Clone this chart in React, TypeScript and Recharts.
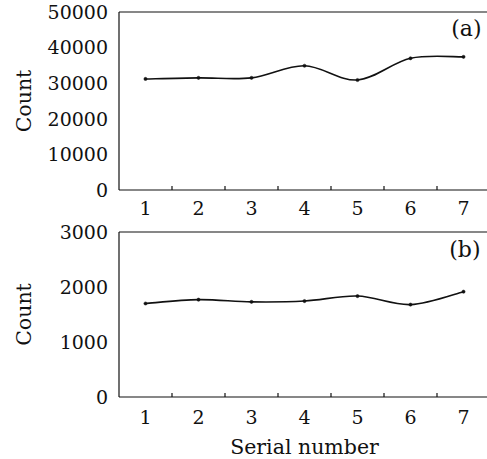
import React from 'react';
import { LineChart, Line, XAxis, YAxis, ReferenceLine } from 'recharts';

const serial = [1, 2, 3, 4, 5, 6, 7];
const xTicks = [1, 1.5, 2, 2.5, 3, 3.5, 4, 4.5, 5, 5.5, 6, 6.5, 7];
const countA = [31200, 31500, 31500, 34900, 30900, 37000, 37400];
const countB = [1700, 1770, 1730, 1745, 1835, 1680, 1915];
const yTicksA = [0, 10000, 20000, 30000, 40000, 50000];
const yTicksB = [0, 1000, 2000, 3000];

const dataA = serial.map((s, i) => ({ x: s, y: countA[i] }));
const dataB = serial.map((s, i) => ({ x: s, y: countB[i] }));

const FONT = 'DejaVu Serif';
const INK = '#111';

// Catmull-Rom style smoothing (like spreadsheet "smoothed line")
function smoothCurve(context: any) {
  let pts: [number, number][] = [];
  return {
    areaStart() {},
    areaEnd() {},
    lineStart() {
      pts = [];
    },
    point(x: number, y: number) {
      pts.push([+x, +y]);
    },
    lineEnd() {
      const n = pts.length;
      if (!n) return;
      context.moveTo(pts[0][0], pts[0][1]);
      for (let i = 0; i < n - 1; i++) {
        const p0 = pts[Math.max(0, i - 1)];
        const p1 = pts[i];
        const p2 = pts[i + 1];
        const p3 = pts[Math.min(n - 1, i + 2)];
        const c1x = p1[0] + (p2[0] - p0[0]) / 6;
        const c1y = p1[1] + (p2[1] - p0[1]) / 6;
        const c2x = p2[0] - (p3[0] - p1[0]) / 6;
        const c2y = p2[1] - (p3[1] - p1[1]) / 6;
        context.bezierCurveTo(c1x, c1y, c2x, c2y, p2[0], p2[1]);
      }
    },
  };
}

const makeTick = (margin: number) => (props: any) => {
  const { x, y, payload } = props;
  const v = payload.value;
  if (Math.round(v) !== v) {
    const ay = y - margin;
    return <line x1={x} x2={x} y1={ay} y2={ay - 4} stroke={INK} strokeWidth={1.2} />;
  }
  return (
    <text x={x} y={y} dy="0.71em" textAnchor="middle" fill={INK} style={{ fontFamily: FONT, fontSize: 19 }}>
      {v}
    </text>
  );
};

const yTickStyle = { fill: INK, style: { fontFamily: FONT, fontSize: 19 } };

function Panel(props: {
  data: any[];
  height: number;
  xHeight: number;
  yTicks: number[];
  yMax: number;
  tag: string;
  tagOffset: number;
  tickMargin: number;
  xLabel?: string;
}) {
  const { data, height, xHeight, yTicks, yMax, tag, tagOffset, tickMargin, xLabel } = props;
  return (
    <LineChart
      width={495}
      height={height}
      data={data}
      margin={{ top: 12, right: 5, bottom: 0, left: 0 }}
      style={{ fontFamily: FONT }}
    >
      <XAxis
        dataKey="x"
        type="number"
        domain={[0.5, 7.5]}
        ticks={xTicks}
        interval={0}
        height={xHeight}
        tickLine={false}
        tickSize={0}
        tickMargin={tickMargin}
        axisLine={{ stroke: INK, strokeWidth: 1.2 }}
        tick={makeTick(tickMargin)}
        label={
          xLabel
            ? { value: xLabel, position: 'insideBottom', offset: 5, fill: INK, style: { fontFamily: FONT, fontSize: 20.5 } }
            : undefined
        }
      />
      <YAxis
        type="number"
        domain={[0, yMax]}
        ticks={yTicks}
        interval={0}
        width={119}
        tickLine={false}
        tickSize={0}
        tickMargin={11}
        axisLine={{ stroke: INK, strokeWidth: 1.2 }}
        tick={yTickStyle}
        label={{
          value: 'Count',
          angle: -90,
          position: 'insideLeft',
          offset: 24,
          fill: INK,
          style: { textAnchor: 'middle', fontFamily: FONT, fontSize: 20.5 },
        }}
      />
      <ReferenceLine
        y={yMax}
        stroke={INK}
        strokeWidth={1.2}
        label={{
          value: tag,
          position: 'insideTopRight',
          offset: tagOffset,
          fill: INK,
          style: { fontFamily: FONT, fontSize: 22 },
        }}
      />
      <Line
        dataKey="y"
        type={smoothCurve as any}
        stroke={INK}
        strokeWidth={1.6}
        dot={{ r: 1.6, fill: INK, stroke: INK, strokeWidth: 0.5 }}
        activeDot={false}
        isAnimationActive={false}
      />
    </LineChart>
  );
}

export default function App() {
  return (
    <div
      style={{
        position: 'absolute',
        left: 0,
        top: 0,
        width: 487,
        height: 459,
        overflow: 'hidden',
        background: '#fff',
      }}
    >
      <Panel data={dataA} height={220} xHeight={30} yTicks={yTicksA} yMax={50000} tag="(a)" tagOffset={8.5} tickMargin={12} />
      <Panel
        data={dataB}
        height={239}
        xHeight={62}
        yTicks={yTicksB}
        yMax={3000}
        tag="(b)"
        tagOffset={9.5}
        tickMargin={14}
        xLabel="Serial number"
      />
    </div>
  );
}
